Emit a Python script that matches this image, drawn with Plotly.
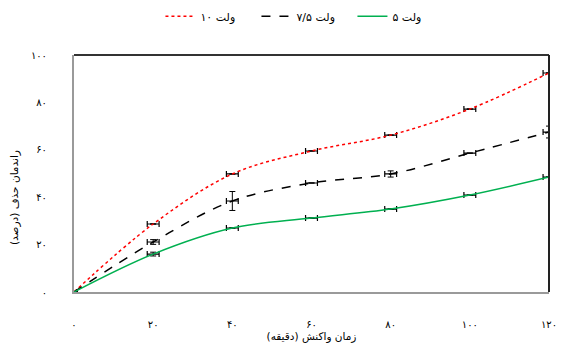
import plotly.graph_objects as go

time_min = [0, 20, 40, 60, 80, 100, 120]
x_tick_labels = ["۰", "۲۰", "۴۰", "۶۰", "۸۰", "۱۰۰", "۱۲۰"]
y_tick_vals = [0, 20, 40, 60, 80, 100]
y_tick_labels = ["۰", "۲۰", "۴۰", "۶۰", "۸۰", "۱۰۰"]

v10 = [0, 28.7, 49.8, 59.5, 66.2, 77.2, 92.4]
v75 = [0, 21.1, 38.4, 46.0, 49.8, 58.6, 67.5]
v5 = [0, 16.0, 27.0, 31.2, 35.0, 40.9, 48.5]

err_x = [0.8, 1.5, 1.5, 1.5, 1.5, 1.5, 1.5]
err_y10 = [0, 0, 0, 0, 0, 0, 0]
err_y75 = [0, 1.0, 4.0, 0, 1.3, 0, 2.5]
err_y5 = [0, 0.8, 0, 0, 0, 0, 0]

names = ["۱۰ ولت", "۷/۵ ولت", "۵ ولت"]
font = "DejaVu Sans"

fig = go.Figure()
series = [
    (v10, err_y10, names[0], "#ff0000", "dot"),
    (v75, err_y75, names[1], "#000000", "dash"),
    (v5, err_y5, names[2], "#00b050", "solid"),
]
for ys, ey, nm, col, dash in series:
    fig.add_trace(go.Scatter(
        x=time_min, y=ys, name=nm, mode="lines",
        line=dict(color=col, width=1.5, dash=dash, shape="spline", smoothing=1.0),
        error_x=dict(type="data", array=err_x, color="#000000", thickness=1.2, width=3),
        error_y=dict(type="data", array=ey, color="#000000", thickness=1, width=3),
    ))

fig.update_layout(
    width=562, height=347,
    margin=dict(l=74, r=13, t=55, b=55, autoexpand=False),
    paper_bgcolor="white", plot_bgcolor="white",
    font=dict(family=font, size=10, color="#000000"),
    showlegend=True,
    legend=dict(orientation="h", x=0.182, xanchor="left", y=0.995, yref="container",
                yanchor="top", font=dict(size=11), tracegroupgap=0,
                entrywidth=51, entrywidthmode="pixels"),
    xaxis=dict(range=[0, 120], tickvals=time_min, ticktext=x_tick_labels,
               showgrid=False, zeroline=False, showline=True, linecolor="#9a9a9a",
               linewidth=2, ticks="", ticklabelstandoff=22, automargin=False,
               title=dict(text="زمان واکنش (دقیقه)", standoff=2, font=dict(size=10.5))),
    yaxis=dict(range=[0, 100], tickvals=y_tick_vals, ticktext=y_tick_labels,
               showgrid=False, zeroline=False, showline=True, linecolor="#9a9a9a",
               linewidth=2, ticks="", ticklabelstandoff=23, automargin=False),
)
fig.add_annotation(text="راندمان حذف (درصد)", textangle=-90, xref="paper", yref="paper",
                   x=-0.124, y=0.397, xanchor="center", yanchor="middle",
                   showarrow=False, font=dict(size=10.5))
fig.add_shape(type="line", xref="paper", yref="paper", x0=0, x1=1, y0=1, y1=1,
              line=dict(color="#333333", width=2))
fig.add_shape(type="line", xref="paper", yref="paper", x0=1, x1=1, y0=0, y1=1,
              line=dict(color="#222222", width=2))

fig.write_html("out.html", config={"displayModeBar": False},
               post_script="document.body.style.margin='0px';document.body.style.padding='0px';")
